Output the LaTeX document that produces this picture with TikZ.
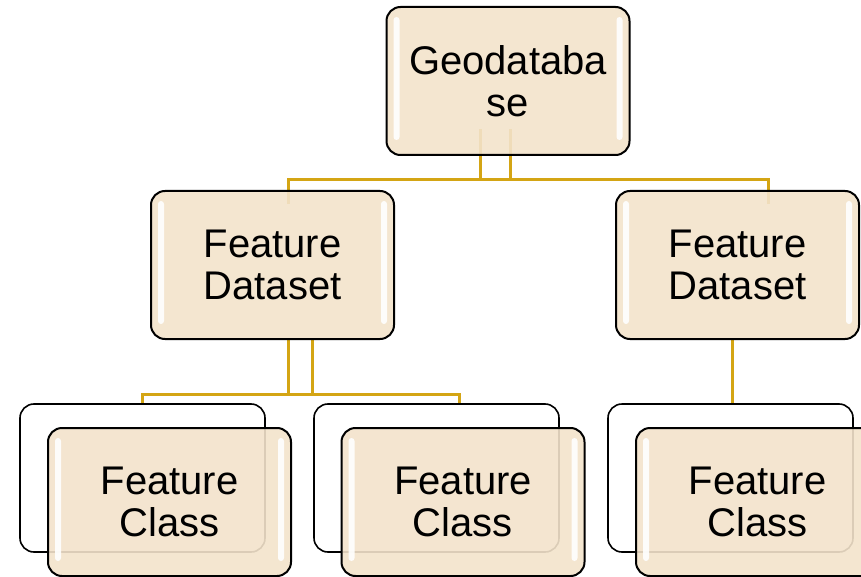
\documentclass[tikz,border=0pt]{standalone}
\usepackage{fontspec}
\setmainfont{Liberation Sans}
\usetikzlibrary{calc}
\pgfdeclarelayer{bg}
\pgfsetlayers{bg,main}
\definecolor{boxfill}{HTML}{F3E3CB}
\definecolor{gold}{HTML}{D4A514}
\newcommand\shinebars[1]{%
  \fill[shine] ($(#1.north west)+(8,11)$) rectangle ($(#1.south west)+(14,-16)$);
  \fill[shine] ($(#1.north east)+(-14,11)$) rectangle ($(#1.south east)+(-8,-16)$);}
\begin{document}
\begin{tikzpicture}[x=1pt,y=-1pt,
  card/.style={draw=black, line width=2pt, rounded corners=14pt, fill=boxfill, fill opacity=0.9, text opacity=1,
    minimum width=243pt, minimum height=148pt, inner sep=0pt, align=center,
    font=\fontsize{40}{42}\selectfont, text=black},
  backcard/.style={draw=black, line width=1.6pt, rounded corners=14pt, fill=white,
    minimum width=245pt, minimum height=148pt, inner sep=0pt},
  conn/.style={draw=gold, line width=3pt},
  shine/.style={fill=white, rounded corners=3pt, fill opacity=0.9}]
\clip (0,0) rectangle (861,577);
% top level
\node[card] (geo) at (508,81) {Geodataba\\se};
\node[card] (fdl) at (272.5,265) {Feature\\Dataset};
\node[card] (fdr) at (737.5,265) {Feature\\Dataset};
% back cards
\node[backcard] (bk1) at (142.5,478) {};
\node[backcard] (bk2) at (436.5,478) {};
\node[backcard] (bk3) at (730.5,478) {};
% front cards
\node[card] (fc1) at (169.5,502) {Feature\\Class};
\node[card] (fc2) at (463,502) {Feature\\Class};
\node[card] (fc3) at (757.5,502) {Feature\\Class};
\foreach \n in {geo,fdl,fdr,fc1,fc2,fc3} {\shinebars{\n}}
% connectors
\coordinate (gA) at (480,180);
\coordinate (gB) at (510,180);
\coordinate (gL) at (288,180);
\coordinate (gR) at (768,180);
\coordinate (lA) at (288,394);
\coordinate (lB) at (312,394);
\coordinate (lL) at (142,394);
\coordinate (lR) at (459,394);
\coordinate (rA) at (732,394);
\begin{pgfonlayer}{bg}
\draw[conn] ($(geo.south -| gA)+(0,-27)$) -- (gA) -- (gB) -- ($(geo.south -| gB)+(0,-27)$);
\draw[conn] ($(fdl.north -| gL)+(0,14)$) -- (gL) -- (gR) -- ($(fdr.north -| gR)+(0,14)$);
\draw[conn] (fdl.south -| lA) -- (lA) -- (lB) -- (fdl.south -| lB);
\draw[conn] (bk1.north -| lL) -- (lL) -- (lR) -- (bk2.north -| lR);
\draw[conn] (fdr.south -| rA) -- (bk3.north -| rA);
\end{pgfonlayer}
\end{tikzpicture}
\end{document}
